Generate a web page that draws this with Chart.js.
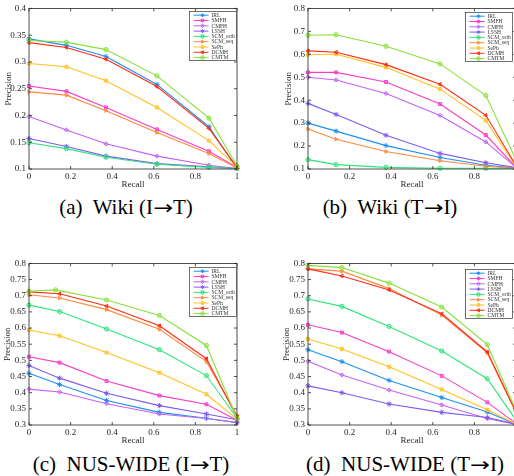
<!DOCTYPE html>
<html>
<head>
<meta charset="utf-8">
<script src="https://cdn.jsdelivr.net/npm/chart.js@4.4.1/dist/chart.umd.min.js"></script>
<style>
html, body { margin: 0; padding: 0; background: #fff; overflow: hidden; width: 514px; height: 476px; }
canvas { position: absolute; }
.cap { position: absolute; font-family: "Liberation Serif", "Times New Roman", serif; font-size: 21px; line-height: 21px; white-space: nowrap; transform: translateX(-50%); color: #000; }
.arr { font-family: "DejaVu Sans", sans-serif; font-size: 19px; display: inline-block; transform: scaleX(1.25); margin: 0 2px; }
</style>
</head>
<body>
<canvas id="cA" width="243" height="192" style="left:0;top:0"></canvas>
<canvas id="cB" width="244" height="192" style="left:278px;top:0"></canvas>
<canvas id="cC" width="243" height="193" style="left:0;top:255px"></canvas>
<canvas id="cD" width="244" height="193" style="left:278px;top:255px"></canvas>
<div class="cap" style="left:126px;top:197px">(a)&nbsp; Wiki (I<span class="arr">→</span>T)</div>
<div class="cap" style="left:390px;top:197px">(b)&nbsp; Wiki (T<span class="arr">→</span>I)</div>
<div class="cap" style="left:131px;top:454px">(c)&nbsp; NUS-WIDE (I<span class="arr">→</span>T)</div>
<div class="cap" style="left:405px;top:454px">(d)&nbsp; NUS-WIDE (T<span class="arr">→</span>I)</div>
<script>
// --- DATA ---
const methods = ['IRL', 'SMFH', 'CMFH', 'LSSH', 'SCM_orth', 'SCM_seq', 'SePh', 'DCMH', 'CMTM'];

const xTicks = [0, 0.2, 0.4, 0.6, 0.8, 1];
const yTicksWiki_IT = [0.1, 0.15, 0.2, 0.25, 0.3, 0.35, 0.4];
const yTicksWiki_TI = [0.1, 0.2, 0.3, 0.4, 0.5, 0.6, 0.7, 0.8];
const yTicksNus = [0.3, 0.35, 0.4, 0.45, 0.5, 0.55, 0.6, 0.65, 0.7, 0.75, 0.8];

const recallWiki_IT = [0, 0.18, 0.37, 0.615, 0.865, 1];
const recallWiki_TI = [0, 0.135, 0.375, 0.635, 0.855, 1];
const recallNus_IT = [0, 0.147, 0.373, 0.627, 0.853, 1];
const recallNus_IT_cmtm = [0, 0.128, 0.373, 0.627, 0.853, 1];
const recallNus_TI = [0, 0.163, 0.39, 0.643, 0.862, 1];

// precision rows follow the order of `methods`
const precWiki_IT = [
    [0.343, 0.331, 0.310, 0.258, 0.179, 0.101],
    [0.255, 0.245, 0.215, 0.174, 0.133, 0.103],
    [0.198, 0.173, 0.147, 0.124, 0.107, 0.101],
    [0.157, 0.142, 0.124, 0.110, 0.104, 0.101],
    [0.149, 0.138, 0.122, 0.109, 0.103, 0.101],
    [0.244, 0.238, 0.209, 0.168, 0.129, 0.102],
    [0.297, 0.291, 0.265, 0.215, 0.153, 0.104],
    [0.336, 0.327, 0.305, 0.254, 0.176, 0.103],
    [0.340, 0.337, 0.323, 0.274, 0.195, 0.106]
];
const precWiki_TI = [
    [0.300, 0.265, 0.202, 0.150, 0.116, 0.104],
    [0.521, 0.521, 0.479, 0.383, 0.248, 0.108],
    [0.500, 0.488, 0.429, 0.333, 0.218, 0.107],
    [0.386, 0.338, 0.247, 0.168, 0.127, 0.106],
    [0.141, 0.119, 0.107, 0.103, 0.103, 0.102],
    [0.274, 0.230, 0.176, 0.136, 0.112, 0.103],
    [0.598, 0.600, 0.543, 0.448, 0.312, 0.110],
    [0.615, 0.609, 0.555, 0.469, 0.334, 0.115],
    [0.683, 0.685, 0.635, 0.558, 0.420, 0.140]
];
const precNus_IT = [
    [0.460, 0.425, 0.376, 0.339, 0.321, 0.307],
    [0.511, 0.493, 0.436, 0.391, 0.364, 0.315],
    [0.411, 0.402, 0.366, 0.334, 0.320, 0.308],
    [0.484, 0.445, 0.398, 0.360, 0.334, 0.316],
    [0.671, 0.651, 0.597, 0.533, 0.453, 0.321],
    [0.703, 0.693, 0.657, 0.596, 0.496, 0.330],
    [0.594, 0.576, 0.524, 0.462, 0.395, 0.318],
    [0.712, 0.706, 0.668, 0.607, 0.505, 0.325],
    [0.714, 0.718, 0.687, 0.639, 0.546, 0.320]
];
const precNus_TI = [
    [0.533, 0.496, 0.438, 0.385, 0.340, 0.302],
    [0.610, 0.586, 0.527, 0.452, 0.370, 0.305],
    [0.497, 0.455, 0.408, 0.362, 0.320, 0.302],
    [0.421, 0.400, 0.365, 0.339, 0.323, 0.303],
    [0.690, 0.667, 0.605, 0.529, 0.443, 0.315],
    [0.783, 0.776, 0.722, 0.640, 0.523, 0.338],
    [0.566, 0.535, 0.480, 0.410, 0.347, 0.303],
    [0.783, 0.761, 0.718, 0.644, 0.526, 0.340],
    [0.794, 0.787, 0.739, 0.665, 0.549, 0.345]
];

// --- STYLE ---
const colors = ['#1e8ff0', '#fa3cc8', '#c462f5', '#7f5af0', '#2ee67a', '#ff8a3d', '#ffc21f', '#ff2b17', '#88e03a'];
const markers = ['star', 'rect', 'rectRot', 'star', 'circle', 'triangle', 'rect', 'triangle', 'circle'];
const markerRot = [0, 0, 0, 0, 0, 90, 0, -90, 0];
const serif = '"Liberation Serif", "Times New Roman", serif';
const axisInk = '#262626';

// box, inward ticks and the small legend (MATLAB style)
const framePlugin = {
    id: 'frame',
    afterDatasetsDraw(chart, args, o) {
        const { ctx, chartArea: a, scales: { x, y } } = chart;
        ctx.save();
        ctx.strokeStyle = axisInk;
        ctx.lineWidth = 0.8;
        ctx.strokeRect(a.left, a.top, a.width, a.height);
        ctx.beginPath();
        x.ticks.forEach(t => {
            const px = x.getPixelForValue(t.value);
            ctx.moveTo(px, a.bottom); ctx.lineTo(px, a.bottom - 3);
            ctx.moveTo(px, a.top); ctx.lineTo(px, a.top + 3);
        });
        y.ticks.forEach(t => {
            const py = y.getPixelForValue(t.value);
            ctx.moveTo(a.left, py); ctx.lineTo(a.left + 3, py);
            ctx.moveTo(a.right, py); ctx.lineTo(a.right - 3, py);
        });
        ctx.stroke();

        // legend
        const lw = 47, lh = 49;
        const lx = a.right - o.rightGap - lw, ly = a.top + o.topGap;
        ctx.fillStyle = '#fff';
        ctx.fillRect(lx, ly, lw, lh);
        ctx.lineWidth = 0.7;
        ctx.strokeStyle = '#333';
        ctx.strokeRect(lx, ly, lw, lh);
        ctx.font = '5.5px ' + serif;
        ctx.textBaseline = 'middle';
        methods.forEach((m, i) => {
            const yy = ly + 3.8 + i * 5.3;
            ctx.strokeStyle = colors[i];
            ctx.lineWidth = 1;
            ctx.beginPath();
            ctx.moveTo(lx + 4, yy); ctx.lineTo(lx + 19, yy);
            ctx.stroke();
            ctx.fillStyle = colors[i] + '66';
            Chart.helpers.drawPoint(ctx, { pointStyle: markers[i], rotation: markerRot[i], radius: 1.8, borderWidth: 0.8 }, lx + 13, yy);
            ctx.fillStyle = '#333';
            ctx.fillText(m, lx + 22, yy + 0.3);
        });
        ctx.restore();
    }
};

function makeChart(id, recall, prec, yTicks, o) {
    const datasets = methods.map((m, i) => ({
        label: m,
        data: prec[i].map((p, j) => ({ x: (o.recallOverride && o.recallOverride[i] || recall)[j], y: p })),
        showLine: true,
        borderColor: colors[i],
        backgroundColor: colors[i] + '55',
        borderWidth: 1.1,
        pointStyle: markers[i],
        rotation: markerRot[i],
        pointRadius: markers[i] === 'star' ? 2.6 : 2.1,
        pointBorderWidth: 1,
        pointBorderColor: colors[i],
        order: methods.length - i,
        clip: 4
    }));
    return new Chart(document.getElementById(id), {
        type: 'scatter',
        data: { datasets },
        options: {
            responsive: false,
            animation: false,
            layout: { padding: { top: o.padTop, right: 6, left: 0, bottom: 0 } },
            plugins: { legend: { display: false }, tooltip: { enabled: false }, frame: o.legend },
            scales: {
                x: {
                    type: 'linear', min: 0, max: 1,
                    afterBuildTicks: s => { s.ticks = xTicks.map(v => ({ value: v })); },
                    afterFit: s => { s.height = 23; },
                    grid: { display: false, drawTicks: false, tickLength: 0 },
                    border: { display: false },
                    ticks: { font: { family: serif, size: 9 }, color: axisInk, padding: 2.5, maxRotation: 0, autoSkip: false, callback: v => String(v) },
                    title: { display: true, text: 'Recall', font: { family: serif, size: 9 }, color: axisInk, padding: { top: 0, bottom: 1.5 } }
                },
                y: {
                    type: 'linear', min: yTicks[0], max: yTicks[yTicks.length - 1],
                    afterBuildTicks: s => { s.ticks = yTicks.map(v => ({ value: v })); },
                    afterFit: s => { s.width = o.yWidth; },
                    grid: { display: false, drawTicks: false, tickLength: 0 },
                    border: { display: false },
                    ticks: { font: { family: serif, size: 9 }, color: axisInk, padding: 3, autoSkip: false, callback: v => String(v) },
                    title: { display: true, text: 'Precision', font: { family: serif, size: 9 }, color: axisInk, padding: { top: o.yTitlePad, bottom: 0 } }
                }
            }
        },
        plugins: [framePlugin]
    });
}

const cmtmIdx = methods.indexOf('CMTM');
const nusOverride = [];
nusOverride[cmtmIdx] = recallNus_IT_cmtm;

makeChart('cA', recallWiki_IT, precWiki_IT, yTicksWiki_IT, { padTop: 6, yWidth: 29, yTitlePad: 3.5, legend: { rightGap: 0.5, topGap: 3 } });
makeChart('cB', recallWiki_TI, precWiki_TI, yTicksWiki_TI, { padTop: 5, yWidth: 30, yTitlePad: 5, legend: { rightGap: 3.5, topGap: 4 } });
makeChart('cC', recallNus_IT, precNus_IT, yTicksNus, { padTop: 6, yWidth: 29, yTitlePad: 2, legend: { rightGap: 0.5, topGap: 4 }, recallOverride: nusOverride });
makeChart('cD', recallNus_TI, precNus_TI, yTicksNus, { padTop: 6, yWidth: 30, yTitlePad: 3.5, legend: { rightGap: 3.5, topGap: 6 } });
</script>
</body>
</html>
